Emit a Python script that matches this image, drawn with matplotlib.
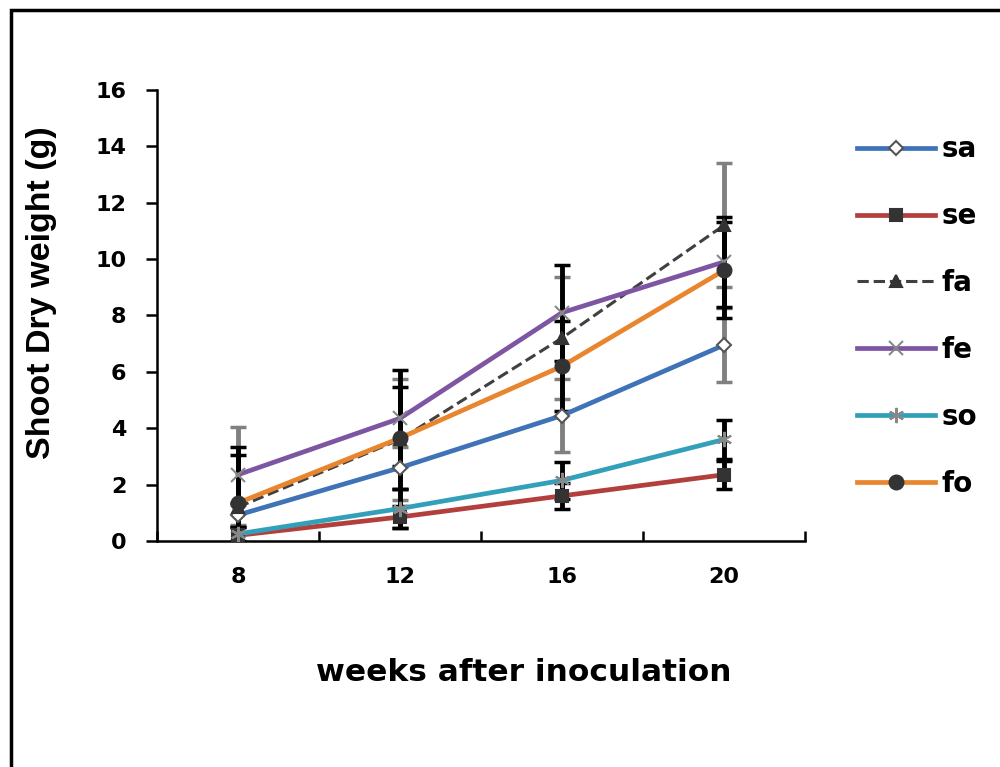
import numpy as np
import matplotlib
matplotlib.use("Agg")
import matplotlib.pyplot as plt
from matplotlib.patches import Rectangle

plt.rcParams['font.family'] = ['DejaVu Sans']
plt.rcParams['font.weight'] = 'bold'

# data
weeks = ['8', '12', '16', '20']
sa = [0.92, 2.6, 4.45, 6.95]
se = [0.2, 0.85, 1.6, 2.35]
fa = [1.2, 3.6, 7.2, 11.2]
fe = [2.35, 4.35, 8.1, 9.9]
so = [0.25, 1.15, 2.15, 3.6]
fo = [1.35, 3.65, 6.2, 9.6]

sa_err = [0.35, 0.75, 1.3, 1.3]
se_err = [0.3, 0.4, 0.47, 0.5]
fa_err = [2.85, 2.15, 2.15, 2.2]
fe_err = [1.0, 1.7, 1.7, 1.6]
so_err = [0.25, 0.7, 0.65, 0.7]
fo_err = [1.7, 1.8, 1.6, 1.7]

x = np.arange(len(weeks))

fig = plt.figure(figsize=(10, 7.67), dpi=100)
ax = fig.add_axes([0.157, 0.2947, 0.648, 0.588])

series = [
    ('sa', sa, sa_err, '#3f72b6', '-', 'D', 'white', '#555555', 7, '#808080'),
    ('se', se, se_err, '#b33f3d', '-', 's', '#333333', '#333333', 9, 'black'),
    ('fa', fa, fa_err, '#404040', '--', '^', '#333333', '#333333', 9, '#808080'),
    ('fe', fe, fe_err, '#7d55a3', '-', 'x', 'white', '#888888', 10, 'black'),
    ('so', so, so_err, '#33a0ba', '-', (6, 2, 0), 'white', '#888888', 11, 'black'),
    ('fo', fo, fo_err, '#e8852e', '-', 'o', '#333333', '#333333', 10, 'black'),
]

for name, vals, err, col, ls, mk, mfc, mec, ms, ecol in series:
    ax.errorbar(x, vals, yerr=err, fmt='none', ecolor=ecol, elinewidth=3.5,
                capsize=6, capthick=2.5, zorder=2)

for name, vals, err, col, ls, mk, mfc, mec, ms, ecol in series:
    lw = 2.2 if ls == '--' else 3.4
    ax.plot(x, vals, color=col, ls=ls, lw=lw, marker=mk, markersize=ms,
            markerfacecolor=mfc, markeredgecolor=mec, markeredgewidth=1.5,
            label=name, zorder=3)

ax.set_xlim(-0.5, 3.5)
ax.set_ylim(0, 16)
ax.set_yticks(np.arange(0, 17, 2))
ax.set_xticks(x)
ax.set_xticklabels(weeks)
ax.set_xticks(np.arange(-0.5, 3.6, 1), minor=True)
ax.tick_params(axis='x', which='major', length=0, labelsize=16, pad=19)
ax.tick_params(axis='x', which='minor', length=7, width=1.8, direction='in')
ax.tick_params(axis='y', length=8, width=1.8, labelsize=16, pad=14)
for lab in ax.get_xticklabels() + ax.get_yticklabels():
    lab.set_fontweight('bold')

for s in ['top', 'right']:
    ax.spines[s].set_visible(False)
for s in ['left', 'bottom']:
    ax.spines[s].set_linewidth(1.8)

ax.set_ylabel('Shoot Dry weight (g)', fontsize=24.5, fontweight='bold',
              family=['Liberation Sans', 'DejaVu Sans'])
ax.yaxis.set_label_coords(-0.155, 0.55)
ax.set_xlabel('weeks after inoculation', fontsize=22.5, fontweight='bold')
ax.xaxis.set_label_coords(0.566, -0.26)

fig.legend(*ax.get_legend_handles_labels(), loc='upper left',
           bbox_to_anchor=(0.846, 0.838), frameon=False,
           fontsize=20, handlelength=2.8, labelspacing=1.4, handletextpad=0.25,
           borderaxespad=0, borderpad=0.4)

# outer frame
fig.patches.append(Rectangle((0.011, -0.1), 1.2, 1.087, transform=fig.transFigure,
                             fill=False, edgecolor='black', lw=2.5, clip_on=False))

fig.savefig('out.png', dpi=100)
